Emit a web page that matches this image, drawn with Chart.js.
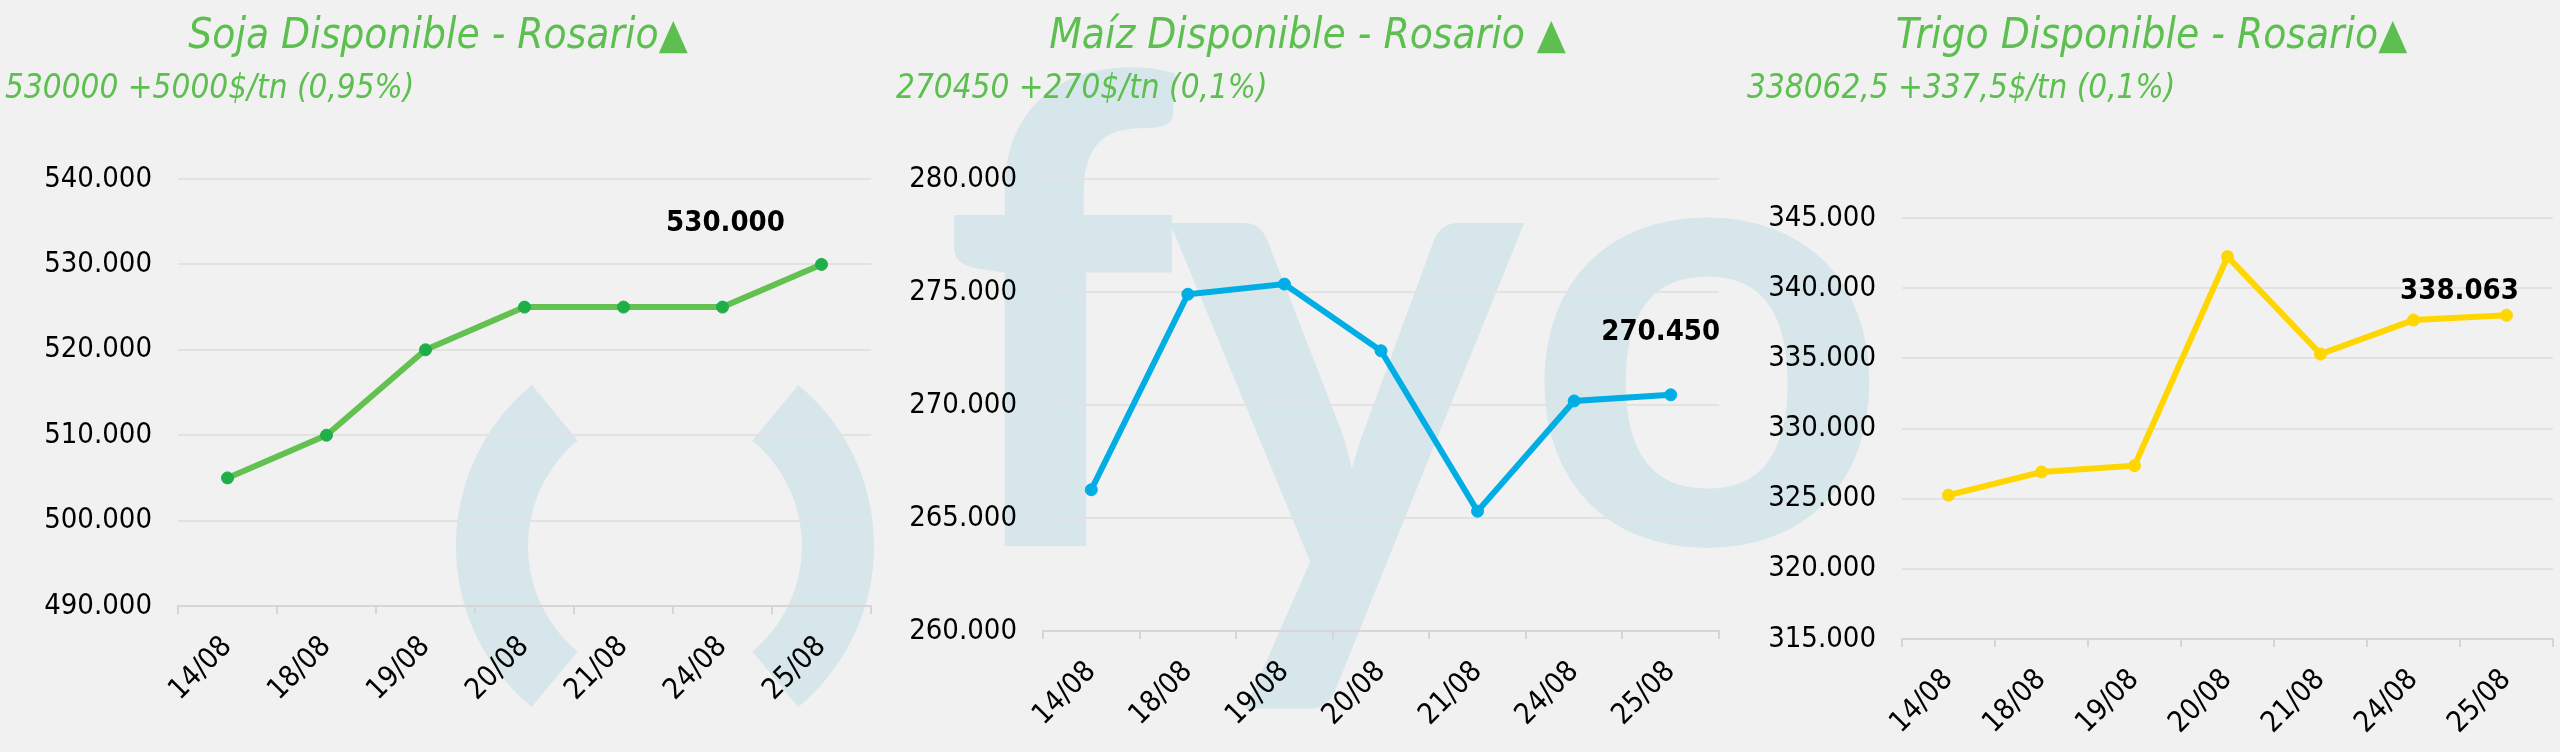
<!DOCTYPE html>
<html>
<head>
<meta charset="utf-8">
<script src="https://cdn.jsdelivr.net/npm/chart.js@4.4.1/dist/chart.umd.min.js"></script>
<style>
  body { margin: 0; background: #f1f1f1; }
  #wrap { position: relative; width: 2560px; height: 752px; overflow: hidden; }
  canvas { position: absolute; top: 0; }
</style>
</head>
<body>
<div id="wrap">
  <canvas id="bg" width="2560" height="752" style="left:0"></canvas>
  <canvas id="soja" width="880" height="752" style="left:0"></canvas>
  <canvas id="maiz" width="860" height="752" style="left:880px"></canvas>
  <canvas id="trigo" width="820" height="752" style="left:1740px"></canvas>
</div>
<script>
// datos
const fechas = ['14/08', '18/08', '19/08', '20/08', '21/08', '24/08', '25/08'];
const soja = [505000, 510000, 520000, 525000, 525000, 525000, 530000];
const maiz = [266250, 274900, 275350, 272400, 265300, 270180, 270450];
const trigo = [325250, 326900, 327350, 342250, 335300, 337725, 338062.5];

const titulos = ['Soja Disponible - Rosario▲', 'Maíz Disponible - Rosario ▲', 'Trigo Disponible - Rosario▲'];
const subtitulos = ['530000 +5000$/tn (0,95%)', '270450 +270$/tn (0,1%)', '338062,5 +337,5$/tn (0,1%)'];

// escalas: min, max, paso
const escalaSoja = [490000, 540000, 10000];
const escalaMaiz = [260000, 280000, 5000];
const escalaTrigo = [315000, 345000, 5000];

const verde = '#5cbf4f';
const fuente = '"DejaVu Sans Condensed", "DejaVu Sans"';

function fmt(v) {
  return Math.round(v).toString().replace(/\B(?=(\d{3})+(?!\d))/g, '.');
}

// marca de agua de fondo
const bg = document.getElementById('bg').getContext('2d');
bg.fillStyle = '#d7e6ea';
bg.strokeStyle = '#d7e6ea';
bg.font = 'bold 640px Lato';
function letra(ch, x0, x1, y0, y1) {
  const m = bg.measureText(ch);
  const w = m.actualBoundingBoxLeft + m.actualBoundingBoxRight;
  const h = m.actualBoundingBoxAscent + m.actualBoundingBoxDescent;
  bg.save();
  bg.translate(x0, y0);
  bg.scale((x1 - x0) / w, (y1 - y0) / h);
  bg.fillText(ch, m.actualBoundingBoxLeft, m.actualBoundingBoxAscent);
  bg.restore();
}
letra('f', 951, 1178, 58, 546);
letra('y', 1168, 1527, 221, 712);
letra('o', 1543, 1873, 211, 553);
bg.lineWidth = 72;
bg.beginPath(); bg.arc(665, 546, 173, Math.PI * 0.72, Math.PI * 1.28); bg.stroke();
bg.beginPath(); bg.arc(665, 546, 173, -Math.PI * 0.28, Math.PI * 0.28); bg.stroke();

const ultimoValor = {
  id: 'ultimoValor',
  afterDatasetsDraw(chart, args, opts) {
    const meta = chart.getDatasetMeta(0);
    const i = meta.data.length - 1;
    const p = meta.data[i];
    const ctx = chart.ctx;
    ctx.save();
    ctx.font = 'bold 29px ' + fuente;
    ctx.fillStyle = '#000';
    ctx.textAlign = 'center';
    ctx.textBaseline = 'middle';
    ctx.fillText(fmt(chart.data.datasets[0].data[i]), p.x + opts.dx, p.y + opts.dy);
    ctx.restore();
  }
};

function grafico(id, valores, escala, titulo, subtitulo, color, puntoColor, cfg) {
  new Chart(document.getElementById(id), {
    type: 'line',
    data: {
      labels: fechas,
      datasets: [{
        data: valores,
        borderColor: color,
        borderWidth: 6,
        pointRadius: 6,
        pointBackgroundColor: puntoColor,
        pointBorderColor: puntoColor,
        pointBorderWidth: 1,
        tension: 0,
        fill: false
      }]
    },
    options: {
      responsive: false,
      devicePixelRatio: 1,
      animation: false,
      layout: { padding: { left: cfg.left, right: cfg.right, top: 0, bottom: 0 } },
      plugins: {
        legend: { display: false },
        tooltip: { enabled: false },
        title: {
          display: true,
          text: titulo,
          color: verde,
          font: { family: fuente, size: 42, style: 'italic', weight: 'normal' },
          padding: { top: 12, bottom: 0 }
        },
        subtitle: {
          display: true,
          text: subtitulo,
          align: 'start',
          color: verde,
          font: { family: fuente, size: 33, style: 'italic', weight: 'normal' },
          padding: { top: 7, bottom: cfg.top - 110 }
        },
        ultimoValor: { dx: cfg.dx, dy: cfg.dy }
      },
      scales: {
        x: {
          offset: true,
          afterFit: s => { s.height = cfg.axisH; },
          grid: { display: true, drawOnChartArea: false, drawTicks: true, tickLength: 8, offset: true, color: '#d6d6d6', lineWidth: 2 },
          border: { display: true, color: '#d6d6d6', width: 2 },
          ticks: {
            autoSkip: false, minRotation: 45, maxRotation: 45, padding: 16,
            color: '#000', font: { family: fuente, size: 29 }
          }
        },
        y: {
          min: escala[0],
          max: escala[1],
          afterFit: s => { s.width = cfg.axisW; },
          grid: { color: '#e2e2e2', lineWidth: 2, drawTicks: false },
          border: { display: false },
          ticks: {
            stepSize: escala[2], padding: 26,
            color: '#000', font: { family: fuente, size: 29 },
            callback: v => fmt(v)
          }
        }
      }
    },
    plugins: [ultimoValor]
  });
}

grafico('soja', soja, escalaSoja, titulos[0], subtitulos[0], '#62c150', '#1fae48',
  { left: 5, right: 9, top: 180, axisW: 173, axisH: 146, dx: -96, dy: -41 });
grafico('maiz', maiz, escalaMaiz, titulos[1], subtitulos[1], '#00ade4', '#00ade4',
  { left: 16, right: 21, top: 180, axisW: 147, axisH: 121, dx: -10, dy: -62 });
grafico('trigo', trigo, escalaTrigo, titulos[2], subtitulos[2], '#ffd600', '#ffd600',
  { left: 7, right: 4, top: 219, axisW: 155, axisH: 113, dx: -47, dy: -24 });
</script>
</body>
</html>
